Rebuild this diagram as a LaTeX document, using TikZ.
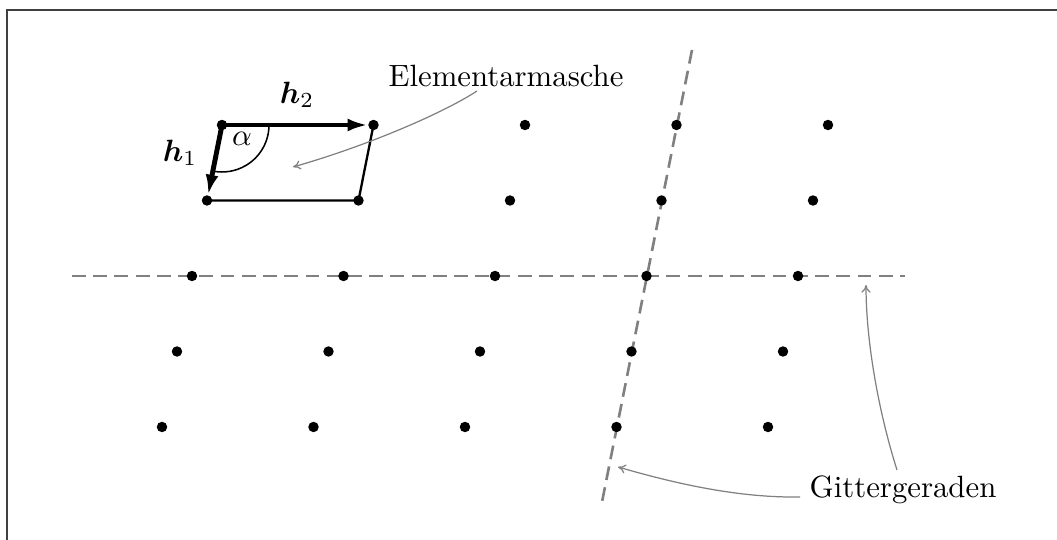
\documentclass[tikz,border=0pt]{standalone}
\usepackage{bm}
\usetikzlibrary{arrows.meta}
\tikzset{
  dot/.style={circle,fill=black,inner sep=0pt,minimum size=3.4pt},
  gline/.style={draw=gray,line width=0.85pt,dash pattern=on 4.5pt off 2.4pt},
  vec/.style={line width=1.6pt,-{Latex[length=6.5pt,width=4.2pt]}},
  edge/.style={line width=0.75pt},
  note/.style={draw=gray,line width=0.4pt,-{To[length=2.5pt,width=3pt]}},
  lbl/.style={inner sep=1pt}
}
\begin{document}
\begin{tikzpicture}[x=0.325pt,y=-0.325pt]
\useasboundingbox (0,0) rectangle (1057,540);
\draw[line width=0.7pt,draw=black!75] (7,540) -- (7,10) -- (1057,10);
% lattice lines
\draw[gline] (72,276) -- (905,276);
\draw[gline] (692,50) -- (602,502);
% lattice points
\foreach \r in {0,...,4}{
  \foreach \c in {0,...,4}{
    \node[dot] (p-\r-\c) at ({222+151.5*\c-15*\r},{125+75.5*\r}) {};
  }
}
% unit cell
\draw[edge] (p-0-1.center) -- (p-1-1.center) -- (p-1-0.center);
\draw[vec] (p-0-0.center) -- (p-0-1);
\draw[vec] (p-0-0.center) -- (p-1-0);
\draw[line width=0.5pt] ([shift={(47,0)}]p-0-0.center) arc[start angle=0,end angle=101.2,radius=47];
\node[lbl] (alpha) at (242,139) {$\alpha$};
\node[lbl] (h1) at (180,153) {$\bm{h}_1$};
\node[lbl] (h2) at (297,95) {$\bm{h}_2$};
% annotations
\node[lbl] (em) at (506,76) {Elementarmasche};
\coordinate (emS) at (477,91);
\coordinate (emT) at (293,167);
\draw[note] (emS) .. controls (445,112) and (370,145) .. (emT);
\node[lbl] (gg) at (903,490) {Gittergeraden};
\coordinate (ggA) at (800,497);
\coordinate (ggAT) at (618,467);
\coordinate (ggB) at (897,470);
\coordinate (ggBT) at (866,285);
\draw[note] (ggA) .. controls (735,498) and (670,482) .. (ggAT);
\draw[note] (ggB) .. controls (878,410) and (866,340) .. (ggBT);
\end{tikzpicture}
\end{document}
